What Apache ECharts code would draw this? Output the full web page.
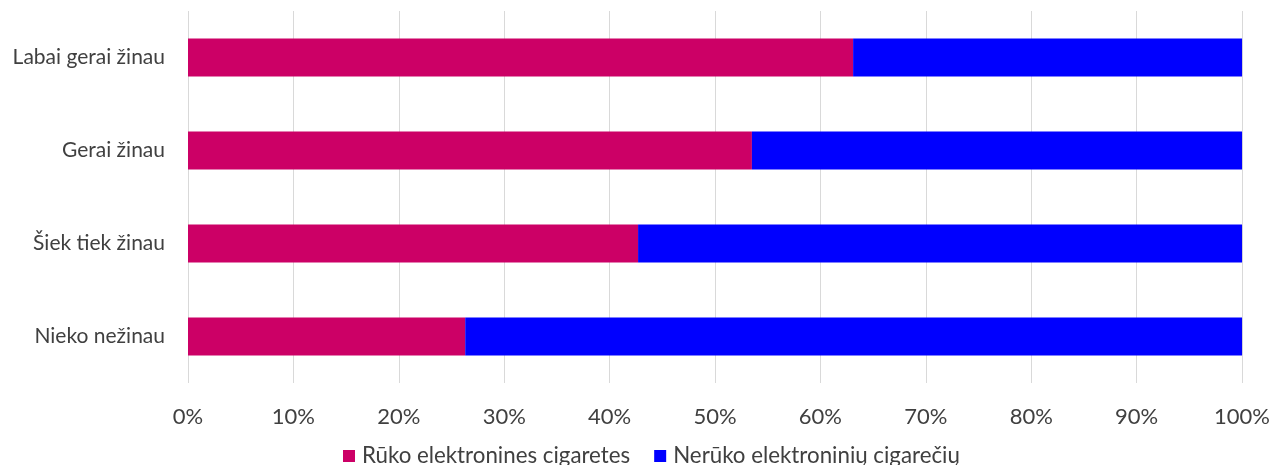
<!DOCTYPE html>
<html>
<head>
<meta charset="utf-8">
<style>
  html, body { margin: 0; padding: 0; background: #ffffff; }
  #chart { width: 1273px; height: 465px; }
</style>
<script src="https://cdn.jsdelivr.net/npm/echarts@6/dist/echarts.min.js"></script>
</head>
<body>
<div id="chart"></div>
<script>
// Knowledge level categories, top to bottom
const categories = ['Labai gerai žinau', 'Gerai žinau', 'Šiek tiek žinau', 'Nieko nežinau'];
// Share (%) of respondents who use e-cigarettes
const smokers = [63.1, 53.5, 42.7, 26.3];
// Share (%) who do not
const nonSmokers = [36.9, 46.5, 57.3, 73.7];
const seriesNames = ['Rūko elektronines cigaretes', 'Nerūko elektroninių cigarečių'];
const xTicks = [0, 10, 20, 30, 40, 50, 60, 70, 80, 90, 100];

const FONT = 'Lato';
const TEXT = '#404040';

const chart = echarts.init(document.getElementById('chart'), null, { renderer: 'canvas' });
chart.setOption({
  animation: false,
  backgroundColor: '#ffffff',
  textStyle: { fontFamily: FONT },
  legend: {
    top: 440,
    left: 338,
    itemWidth: 12,
    itemHeight: 12,
    itemGap: 24,
    icon: 'rect',
    textStyle: { color: TEXT, fontSize: 22.3, fontFamily: FONT, padding: [0, 0, 0, 2] },
    data: seriesNames
  },
  grid: { left: 188, right: 28, top: 11, bottom: 82, containLabel: false },
  xAxis: {
    type: 'value',
    min: 0,
    max: 100,
    interval: 10,
    axisLine: { show: false },
    axisTick: { show: false },
    splitLine: { show: true, lineStyle: { color: '#d9d9d9', width: 1 } },
    axisLabel: {
      color: TEXT,
      fontSize: 22,
      fontFamily: FONT,
      margin: 23,
      formatter: v => (xTicks.includes(v) ? v + '%' : '')
    }
  },
  yAxis: {
    type: 'category',
    inverse: true,
    data: categories,
    axisLine: { show: false },
    axisTick: { show: false },
    axisLabel: { color: TEXT, fontSize: 21, fontFamily: FONT, margin: 23 }
  },
  series: [
    {
      name: seriesNames[0],
      type: 'bar',
      stack: 'total',
      barWidth: '41%',
      itemStyle: { color: '#CC0066' },
      data: smokers
    },
    {
      name: seriesNames[1],
      type: 'bar',
      stack: 'total',
      barWidth: '41%',
      itemStyle: { color: '#0000FF' },
      data: nonSmokers
    }
  ]
});
</script>
</body>
</html>
